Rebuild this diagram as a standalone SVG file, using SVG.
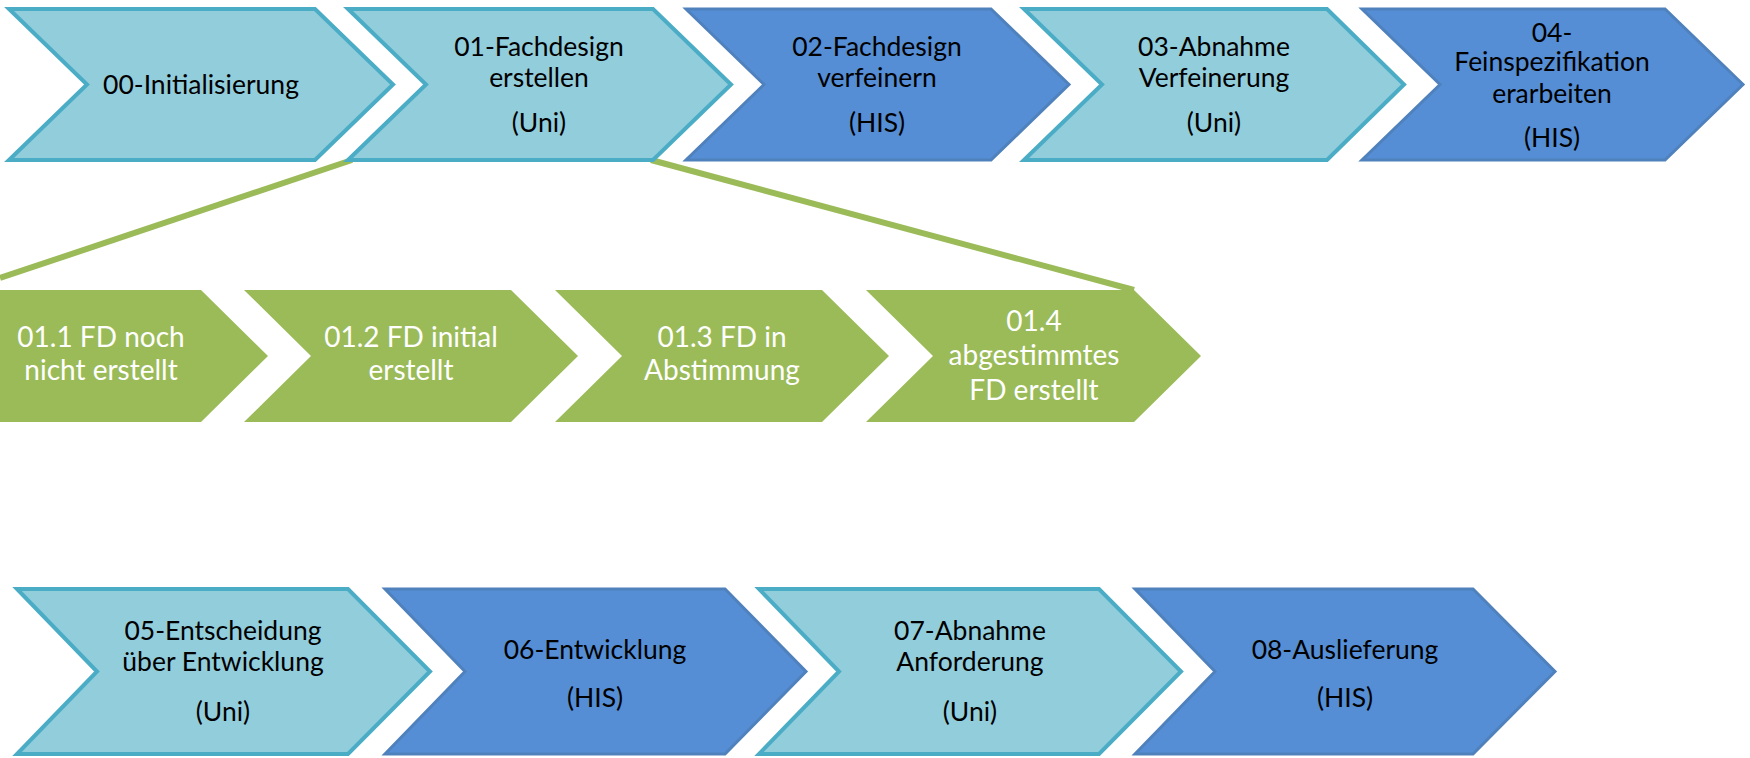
<svg xmlns="http://www.w3.org/2000/svg" width="1750" height="758" viewBox="0 0 1750 758">
<style>
.light{fill:#92CDDC;stroke:#4BACC6;stroke-width:4;stroke-linejoin:miter}
.dark{fill:#558ED5;stroke:#4F81BD;stroke-width:3;stroke-linejoin:miter}
.green{fill:#9BBB59;stroke:none}
.t{font-family:Lato,"Liberation Sans",sans-serif;font-size:26.5px;fill:#000;text-anchor:middle}
.g{font-family:Lato,"Liberation Sans",sans-serif;font-size:28px;fill:#fff;text-anchor:middle}
.conn{stroke:#9BBB59;stroke-width:6;fill:none}
</style>
<rect width="1750" height="758" fill="#fff"/>
<g id="connectors">
<line class="conn" x1="352" y1="160" x2="0" y2="278"/>
<line class="conn" x1="651" y1="160" x2="1134" y2="290"/>
</g>
<g id="n00"><polygon class="light" points="9,9 315,9 393,84.5 315,160 9,160 87,84.5"/>
<text class="t" x="201" y="94">00-Initialisierung</text></g>
<g id="n01"><polygon class="light" points="348,9 653,9 731,84.5 653,160 348,160 426,84.5"/>
<text class="t" x="539" y="56">01-Fachdesign</text><text class="t" x="539" y="87">erstellen</text><text class="t" x="539" y="132">(Uni)</text></g>
<g id="n02"><polygon class="dark" points="686,9 991,9 1069,84.5 991,160 686,160 764,84.5"/>
<text class="t" x="877" y="56">02-Fachdesign</text><text class="t" x="877" y="87">verfeinern</text><text class="t" x="877" y="132">(HIS)</text></g>
<g id="n03"><polygon class="light" points="1024,9 1327,9 1404,84.5 1327,160 1024,160 1102,84.5"/>
<text class="t" x="1214" y="56">03-Abnahme</text><text class="t" x="1214" y="87">Verfeinerung</text><text class="t" x="1214" y="132">(Uni)</text></g>
<g id="n04"><polygon class="dark" points="1362,9 1665,9 1743,84.5 1665,160 1362,160 1440,84.5"/>
<text class="t" x="1552" y="42">04-</text><text class="t" x="1552" y="71">Feinspezifikation</text><text class="t" x="1552" y="103">erarbeiten</text><text class="t" x="1552" y="147">(HIS)</text></g>
<g id="n011"><polygon class="green" points="-67,290 201,290 268,356 201,422 -67,422 0,356"/>
<text class="g" x="101" y="347">01.1 FD noch</text><text class="g" x="101" y="380">nicht erstellt</text></g>
<g id="n012"><polygon class="green" points="244,290 511,290 578,356 511,422 244,422 311,356"/>
<text class="g" x="411" y="347">01.2 FD initial</text><text class="g" x="411" y="380">erstellt</text></g>
<g id="n013"><polygon class="green" points="555,290 822,290 889,356 822,422 555,422 622,356"/>
<text class="g" x="722" y="347">01.3 FD in</text><text class="g" x="722" y="380">Abstimmung</text></g>
<g id="n014"><polygon class="green" points="866,290 1134,290 1201,356 1134,422 866,422 933,356"/>
<text class="g" x="1034" y="331">01.4</text><text class="g" x="1034" y="365">abgestimmtes</text><text class="g" x="1034" y="400">FD erstellt</text></g>
<g id="n05"><polygon class="light" points="17,589 348,589 430,671.5 348,754 17,754 97,671.5"/>
<text class="t" x="223" y="640">05-Entscheidung</text><text class="t" x="223" y="671">über Entwicklung</text><text class="t" x="223" y="721">(Uni)</text></g>
<g id="n06"><polygon class="dark" points="385,589 725,589 806,671.5 725,754 385,754 465,671.5"/>
<text class="t" x="595" y="659">06-Entwicklung</text><text class="t" x="595" y="707">(HIS)</text></g>
<g id="n07"><polygon class="light" points="759,589 1099,589 1181,671.5 1099,754 759,754 839,671.5"/>
<text class="t" x="970" y="640">07-Abnahme</text><text class="t" x="970" y="671">Anforderung</text><text class="t" x="970" y="721">(Uni)</text></g>
<g id="n08"><polygon class="dark" points="1135,589 1473,589 1555,671.5 1473,754 1135,754 1215,671.5"/>
<text class="t" x="1345" y="659">08-Auslieferung</text><text class="t" x="1345" y="707">(HIS)</text></g>
</svg>
